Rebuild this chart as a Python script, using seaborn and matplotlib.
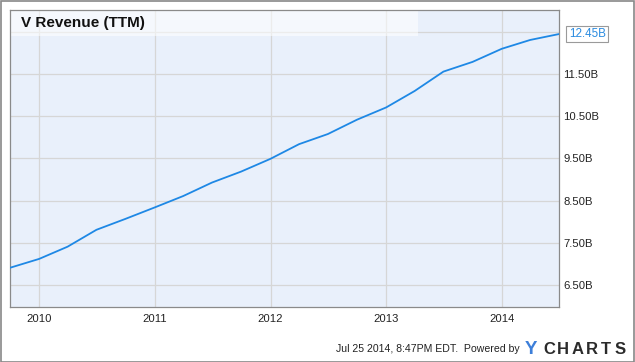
import numpy as np
import pandas as pd
import matplotlib
matplotlib.use("Agg")
import matplotlib.pyplot as plt
import matplotlib.dates as mdates
from matplotlib.patches import Rectangle, Polygon
import seaborn as sns

dates = pd.to_datetime([
    "2009-09-30", "2009-12-31", "2010-03-31", "2010-06-30", "2010-09-30",
    "2010-12-31", "2011-03-31", "2011-06-30", "2011-09-30", "2011-12-31",
    "2012-03-31", "2012-06-30", "2012-09-30", "2012-12-31", "2013-03-31",
    "2013-06-30", "2013-09-30", "2013-12-31", "2014-03-31", "2014-06-30",
])
revenue_b = [6.91, 7.12, 7.41, 7.81, 8.07, 8.34, 8.61, 8.93, 9.19, 9.49,
             9.84, 10.08, 10.42, 10.71, 11.10, 11.56, 11.79, 12.10, 12.31, 12.45]
y_ticks = [6.5, 7.5, 8.5, 9.5, 10.5, 11.5, 12.5]
y_tick_labels = ["6.50B", "7.50B", "8.50B", "9.50B", "10.50B", "11.50B", ""]
x_years = [2010, 2011, 2012, 2013, 2014]
title = "V Revenue (TTM)"
last_label = "12.45B"
footer = "Jul 25 2014, 8:47PM EDT.  Powered by"
logo_rest = "CHARTS"

sns.set_theme(style="white")
plt.rcParams["font.family"] = ["Liberation Sans", "DejaVu Sans"]

W, H = 635, 362
fig = plt.figure(figsize=(W / 100, H / 100), dpi=100)
fig.patch.set_facecolor("white")
ax = fig.add_axes([10 / W, (H - 307) / H, (559 - 10) / W, (307 - 10) / H])
ax.set_facecolor("#E9F0FB")

df = pd.DataFrame({"date": dates, "rev": revenue_b})
sns.lineplot(data=df, x="date", y="rev", ax=ax, color="#1E88E5", linewidth=1.3,
             zorder=4)

ax.set_xlim(dates[0], dates[-1])
ax.set_ylim(5.98, 13.02)
ax.set_yticks(y_ticks)
ax.set_yticklabels(y_tick_labels)
ax.yaxis.tick_right()
ax.set_xticks([pd.Timestamp(f"{y}-01-01") for y in x_years])
ax.set_xticklabels([str(y) for y in x_years])
ax.tick_params(axis="both", length=0, labelsize=8.1, colors="#222222")
ax.tick_params(axis="y", pad=3)
ax.tick_params(axis="x", pad=5)
ax.grid(True, color="#D6D6D6", linewidth=0.9)
ax.set_axisbelow(True)
ax.set_xlabel("")
ax.set_ylabel("")
for s in ax.spines.values():
    s.set_color("#8A8A8A")
    s.set_linewidth(0.9)

# title band (semi-transparent, grid shows through)
ax.add_patch(Rectangle((0, (307 - 36) / (307 - 10)), (418 - 10) / (559 - 10),
                       (36 - 10) / (307 - 10), transform=ax.transAxes,
                       facecolor="white", alpha=0.55, edgecolor="none", zorder=2))
ax.text(11 / (559 - 10), 1 - 13 / (307 - 10), title, transform=ax.transAxes,
        fontsize=11, fontweight="bold", color="#111111", va="center", ha="left",
        zorder=3)

# last value label
ax.annotate(last_label, xy=(1.0, revenue_b[-1]), xycoords=("axes fraction", "data"),
            xytext=(7, 0), textcoords="offset points", fontsize=8.4,
            color="#2A8BE0", va="center", ha="left", annotation_clip=False,
            bbox=dict(boxstyle="square,pad=0.2", fc="white", ec="#9A9A9A", lw=0.8))

# footer
fig.text(520 / W, 1 - 349 / H, footer, fontsize=7.6, color="#222222",
         ha="right", va="center")
fig.text(525 / W, 1 - 349 / H, "Y", fontsize=13.5, fontweight="bold",
         color="#3D7FD9", ha="left", va="center")
for i, ch in enumerate(logo_rest):
    fig.text((549 + i * 14.2) / W, 1 - 349 / H, ch, fontsize=12, fontweight="bold",
             color="#2B2B2B", ha="center", va="center")

# outer border
fig.add_artist(Rectangle((0.5 / W, 0.5 / H), (W - 1.5) / W, (H - 1.5) / H,
                         transform=fig.transFigure, fill=False,
                         edgecolor="#888888", linewidth=1.2))

fig.savefig("out.png", dpi=100)
